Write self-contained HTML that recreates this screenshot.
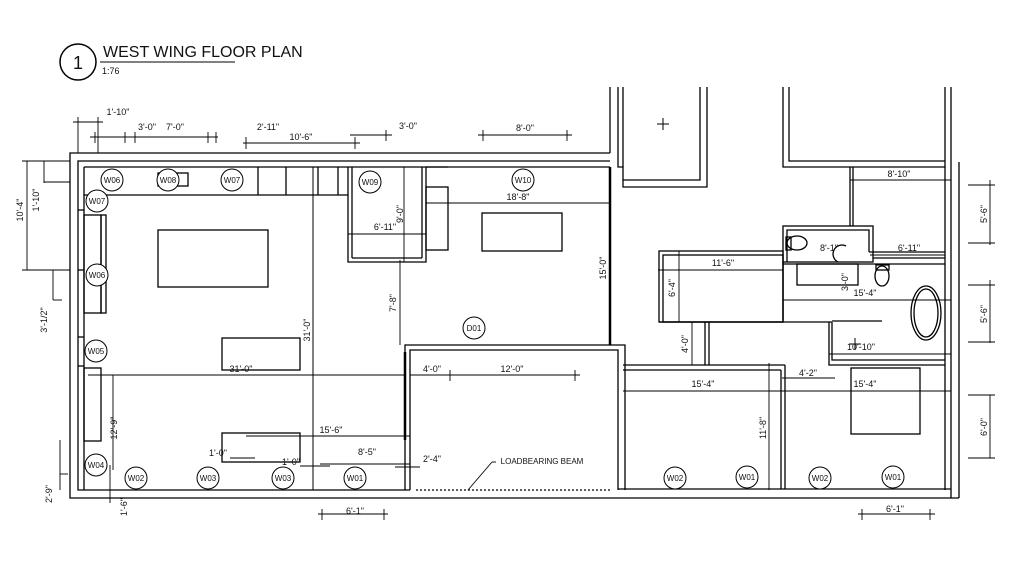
<!DOCTYPE html>
<html><head><meta charset="utf-8"><style>
html,body{margin:0;padding:0;background:#fff;}
svg{display:block;}
text{font-family:"Liberation Sans",sans-serif;fill:#111;}
</style></head><body>
<svg width="1024" height="575" viewBox="0 0 1024 575" xmlns="http://www.w3.org/2000/svg">
<rect width="1024" height="575" fill="#fff"/>
<!-- title -->
<circle cx="78" cy="62" r="18" fill="none" stroke="#000" stroke-width="1.5"/>
<text x="78" y="69" font-size="18" text-anchor="middle">1</text>
<text x="103" y="57" font-size="16">WEST WING FLOOR PLAN</text>
<line x1="100" y1="62" x2="235" y2="62" stroke="#000"/>
<text x="102" y="74" font-size="9">1:76</text>

<g fill="none" stroke="#000" stroke-width="1.3">
<!-- left main walls -->
<polyline points="610,153 70,153 70,498 410,498"/>
<polyline points="610,161 78,161 78,490 410,490"/>
<line x1="84" y1="167" x2="84" y2="490"/>
<line x1="84" y1="167" x2="610" y2="167"/>
<line x1="84" y1="195" x2="348" y2="195"/>
<line x1="258" y1="167" x2="258" y2="195"/><line x1="286" y1="167" x2="286" y2="195"/><line x1="318" y1="167" x2="318" y2="195"/><line x1="338" y1="167" x2="338" y2="195"/>
<rect x="158" y="173" width="30" height="13"/>
<rect x="84" y="215" width="17" height="98"/><rect x="101" y="215" width="5" height="98"/>
<rect x="84" y="368" width="17" height="73"/>
<line x1="78" y1="210" x2="84" y2="210"/><line x1="78" y1="270" x2="84" y2="270"/><line x1="78" y1="337" x2="84" y2="337"/><line x1="78" y1="366" x2="84" y2="366"/>
<!-- W09 closet -->
<polyline points="348,167 348,262 426,262 426,167"/>
<line x1="352" y1="167" x2="352" y2="258"/><line x1="352" y1="258" x2="422" y2="258"/><line x1="422" y1="167" x2="422" y2="258"/>
<rect x="426" y="187" width="22" height="63"/><line x1="426" y1="167" x2="448" y2="167"/>
<!-- furniture -->
<rect x="158" y="230" width="110" height="57"/>
<rect x="482" y="213" width="80" height="38"/>
<rect x="222" y="338" width="78" height="32"/>
<rect x="222" y="433" width="78" height="29"/>
<!-- interior walls -->
<line x1="313" y1="167" x2="313" y2="490" stroke-width="1"/>
<line x1="610" y1="167" x2="610" y2="345" stroke-width="2.5"/>
<polyline points="405,490 405,345 625,345 625,490"/>
<polyline points="410,490 410,350 618,350 618,490"/>
<line x1="405" y1="352" x2="405" y2="440" stroke-width="2.5"/>
<!-- right part -->
<polyline points="610,87 610,153"/><polyline points="618,87 618,167 623,167 623,187 707,187 707,87"/>
<polyline points="623,87 623,167"/><polyline points="700,87 700,180 623,180"/>
<polyline points="783,87 783,167 945,167 945,87"/><polyline points="789,87 789,161 945,161"/>
<line x1="951" y1="87" x2="951" y2="498"/><line x1="959" y1="162" x2="959" y2="498"/>
<line x1="945" y1="167" x2="945" y2="490"/>
<line x1="410" y1="498" x2="959" y2="498"/><line x1="618" y1="489" x2="951" y2="489"/>
<line x1="850" y1="167" x2="850" y2="226"/><line x1="853" y1="167" x2="853" y2="226"/>
<rect x="783" y="226" width="90" height="36"/>
<polyline points="787,262 787,230 869,230 869,252"/>
<line x1="869" y1="252" x2="945" y2="252"/><line x1="873" y1="258" x2="945" y2="258"/>
<line x1="783" y1="264" x2="945" y2="264"/>
<rect x="797" y="264" width="61" height="21"/>
<rect x="659" y="251" width="124" height="71"/><rect x="663" y="255" width="120" height="67"/>
<line x1="783" y1="262" x2="783" y2="320"/>
<polyline points="705,322 705,365"/><polyline points="709,322 709,365"/>
<line x1="659" y1="322" x2="832" y2="322"/>
<polyline points="829,322 829,365 945,365"/><polyline points="832,322 832,360 945,360"/>
<line x1="832" y1="321" x2="882" y2="321"/>
<line x1="623" y1="365" x2="785" y2="365"/><line x1="623" y1="370" x2="781" y2="370"/>
<line x1="781" y1="370" x2="781" y2="489"/><line x1="785" y1="365" x2="785" y2="489"/>
<rect x="851" y="368" width="69" height="66"/>
<ellipse cx="926" cy="313" rx="15" ry="27"/><ellipse cx="926" cy="313" rx="12" ry="24"/>
<!-- toilets -->
<ellipse cx="797" cy="243" rx="10" ry="7"/><rect x="786" y="237" width="5" height="13"/>
<ellipse cx="882" cy="276" rx="7" ry="10"/><rect x="876" y="265" width="13" height="5"/>
<path d="M846 246 A8 8 0 0 0 838 262"/>
<path d="M416 490 L612 490" stroke-dasharray="2,2"/>
</g>
<!-- plus marks -->
<g stroke="#000" stroke-width="1"><line x1="657" y1="124" x2="669" y2="124"/><line x1="663" y1="118" x2="663" y2="130"/>
<line x1="849" y1="344" x2="861" y2="344"/><line x1="855" y1="338" x2="855" y2="350"/></g>

<!-- dimension lines -->
<g stroke="#000" stroke-width="0.9" fill="none">
<line x1="73" y1="122" x2="103" y2="122"/><line x1="78" y1="117" x2="78" y2="153"/><line x1="98" y1="117" x2="98" y2="153"/>
<line x1="90" y1="137" x2="218" y2="137"/><line x1="95" y1="132" x2="95" y2="143"/><line x1="125" y1="132" x2="125" y2="143"/><line x1="135" y1="132" x2="135" y2="143"/><line x1="208" y1="132" x2="208" y2="143"/><line x1="216" y1="132" x2="216" y2="143"/>
<line x1="243" y1="143" x2="360" y2="143"/><line x1="246" y1="137" x2="246" y2="149"/><line x1="355" y1="137" x2="355" y2="149"/>
<line x1="350" y1="135" x2="392" y2="135"/><line x1="386" y1="130" x2="386" y2="141"/>
<line x1="478" y1="135" x2="572" y2="135"/><line x1="483" y1="130" x2="483" y2="141"/><line x1="567" y1="130" x2="567" y2="141"/>
<line x1="27" y1="161" x2="27" y2="270"/><line x1="22" y1="161" x2="70" y2="161"/><line x1="22" y1="270" x2="70" y2="270"/>
<line x1="44" y1="161" x2="44" y2="183"/><line x1="44" y1="182" x2="70" y2="182"/>
<line x1="53" y1="270" x2="53" y2="300"/><line x1="53" y1="300" x2="62" y2="300"/>
<line x1="60" y1="440" x2="60" y2="490"/><line x1="60" y1="474" x2="68" y2="474"/>
<line x1="110" y1="465" x2="110" y2="503"/>
<line x1="88" y1="375" x2="405" y2="375"/>
<line x1="113" y1="375" x2="113" y2="470"/>
<line x1="246" y1="436" x2="410" y2="436"/>
<line x1="230" y1="458" x2="255" y2="458"/><line x1="300" y1="466" x2="330" y2="466"/>
<line x1="320" y1="464" x2="410" y2="464"/>
<line x1="395" y1="467" x2="420" y2="467"/>
<line x1="410" y1="375" x2="580" y2="375"/><line x1="450" y1="370" x2="450" y2="381"/><line x1="575" y1="370" x2="575" y2="381"/>
<line x1="400" y1="260" x2="400" y2="345"/>
<line x1="426" y1="203" x2="610" y2="203"/>
<line x1="404" y1="167" x2="404" y2="262"/>
<line x1="348" y1="234" x2="426" y2="234"/>
<line x1="318" y1="514" x2="388" y2="514"/><line x1="322" y1="509" x2="322" y2="520"/><line x1="384" y1="509" x2="384" y2="520"/>
<line x1="858" y1="514" x2="935" y2="514"/><line x1="862" y1="509" x2="862" y2="520"/><line x1="930" y1="509" x2="930" y2="520"/>
<line x1="658" y1="270" x2="783" y2="270"/><line x1="679" y1="251" x2="679" y2="322"/>
<line x1="692" y1="322" x2="692" y2="365"/>
<line x1="623" y1="391" x2="951" y2="391"/>
<line x1="782" y1="378" x2="835" y2="378"/>
<line x1="769" y1="363" x2="769" y2="490"/>
<line x1="783" y1="300" x2="951" y2="300"/>
<line x1="829" y1="354" x2="951" y2="354"/>
<line x1="850" y1="180" x2="951" y2="180"/>
<line x1="870" y1="255" x2="945" y2="255"/>
<line x1="990" y1="180" x2="990" y2="245"/><line x1="990" y1="280" x2="990" y2="343"/><line x1="990" y1="395" x2="990" y2="458"/>
<line x1="968" y1="185" x2="995" y2="185"/><line x1="968" y1="243" x2="995" y2="243"/><line x1="968" y1="285" x2="995" y2="285"/><line x1="968" y1="342" x2="995" y2="342"/><line x1="968" y1="395" x2="995" y2="395"/><line x1="968" y1="458" x2="995" y2="458"/>
<line x1="468" y1="490" x2="492" y2="462"/><line x1="492" y1="462" x2="496" y2="462"/>
</g>

<!-- windows -->
<g fill="#fff" stroke="#000" stroke-width="1">
<circle cx="112" cy="180" r="11"/><circle cx="168" cy="180" r="11"/><circle cx="232" cy="180" r="11"/>
<circle cx="97" cy="201" r="11"/><circle cx="97" cy="275" r="11"/><circle cx="96" cy="351" r="11"/><circle cx="96" cy="465" r="11"/>
<circle cx="370" cy="182" r="11"/><circle cx="523" cy="180" r="11"/><circle cx="474" cy="328" r="11"/>
<circle cx="136" cy="478" r="11"/><circle cx="208" cy="478" r="11"/><circle cx="283" cy="478" r="11"/><circle cx="355" cy="478" r="11"/>
<circle cx="675" cy="478" r="11"/><circle cx="747" cy="477" r="11"/><circle cx="820" cy="478" r="11"/><circle cx="893" cy="477" r="11"/>
</g>
<g font-size="8" text-anchor="middle">
<text x="112" y="183">W06</text><text x="168" y="183">W08</text><text x="232" y="183">W07</text>
<text x="97" y="204">W07</text><text x="97" y="278">W06</text><text x="96" y="354">W05</text><text x="96" y="468">W04</text>
<text x="370" y="185">W09</text><text x="523" y="183">W10</text><text x="474" y="331">D01</text>
<text x="136" y="481">W02</text><text x="208" y="481">W03</text><text x="283" y="481">W03</text><text x="355" y="481">W01</text>
<text x="675" y="481">W02</text><text x="747" y="480">W01</text><text x="820" y="481">W02</text><text x="893" y="480">W01</text>
</g>

<!-- dimension text -->
<g font-size="9" text-anchor="middle">
<text x="118" y="115">1'-10"</text>
<text x="147" y="130">3'-0"</text><text x="175" y="130">7'-0"</text>
<text x="268" y="130">2'-11"</text><text x="301" y="140">10'-6"</text>
<text x="408" y="129">3'-0"</text><text x="525" y="131">8'-0"</text>
<text x="241" y="372">31'-0"</text>
<text x="385" y="230">6'-11"</text>
<text x="518" y="200">18'-8"</text>
<text x="512" y="372">12'-0"</text><text x="432" y="372">4'-0"</text>
<text x="331" y="433">15'-6"</text><text x="367" y="455">8'-5"</text>
<text x="218" y="456">1'-0"</text><text x="291" y="465">1'-0"</text><text x="432" y="462">2'-4"</text>
<text x="355" y="514">6'-1"</text><text x="895" y="512">6'-1"</text>
<text x="723" y="266">11'-6"</text><text x="829" y="251">8'-1"</text><text x="909" y="251">6'-11"</text>
<text x="899" y="177">8'-10"</text><text x="865" y="296">15'-4"</text><text x="861" y="350">10'-10"</text>
<text x="808" y="376">4'-2"</text><text x="703" y="387">15'-4"</text><text x="865" y="387">15'-4"</text>
<text x="542" y="464" font-size="8">LOADBEARING BEAM</text>
</g>
<g font-size="9" text-anchor="middle">
<text transform="translate(23,210) rotate(-90)">10'-4"</text>
<text transform="translate(39,200) rotate(-90)">1'-10"</text>
<text transform="translate(47,320) rotate(-90)">3'-1/2"</text>
<text transform="translate(52,494) rotate(-90)">2'-9"</text>
<text transform="translate(127,507) rotate(-90)">1'-6"</text>
<text transform="translate(117,428) rotate(-90)">12'-9"</text>
<text transform="translate(310,330) rotate(-90)">31'-0"</text>
<text transform="translate(396,303) rotate(-90)">7'-8"</text>
<text transform="translate(403,214) rotate(-90)">9'-0"</text>
<text transform="translate(606,268) rotate(-90)">15'-0"</text>
<text transform="translate(675,288) rotate(-90)">6'-4"</text>
<text transform="translate(688,344) rotate(-90)">4'-0"</text>
<text transform="translate(766,428) rotate(-90)">11'-8"</text>
<text transform="translate(848,282) rotate(-90)">3'-0"</text>
<text transform="translate(987,214) rotate(-90)">5'-6"</text>
<text transform="translate(987,314) rotate(-90)">5'-6"</text>
<text transform="translate(987,427) rotate(-90)">6'-0"</text>
</g>
</svg>
</body></html>
